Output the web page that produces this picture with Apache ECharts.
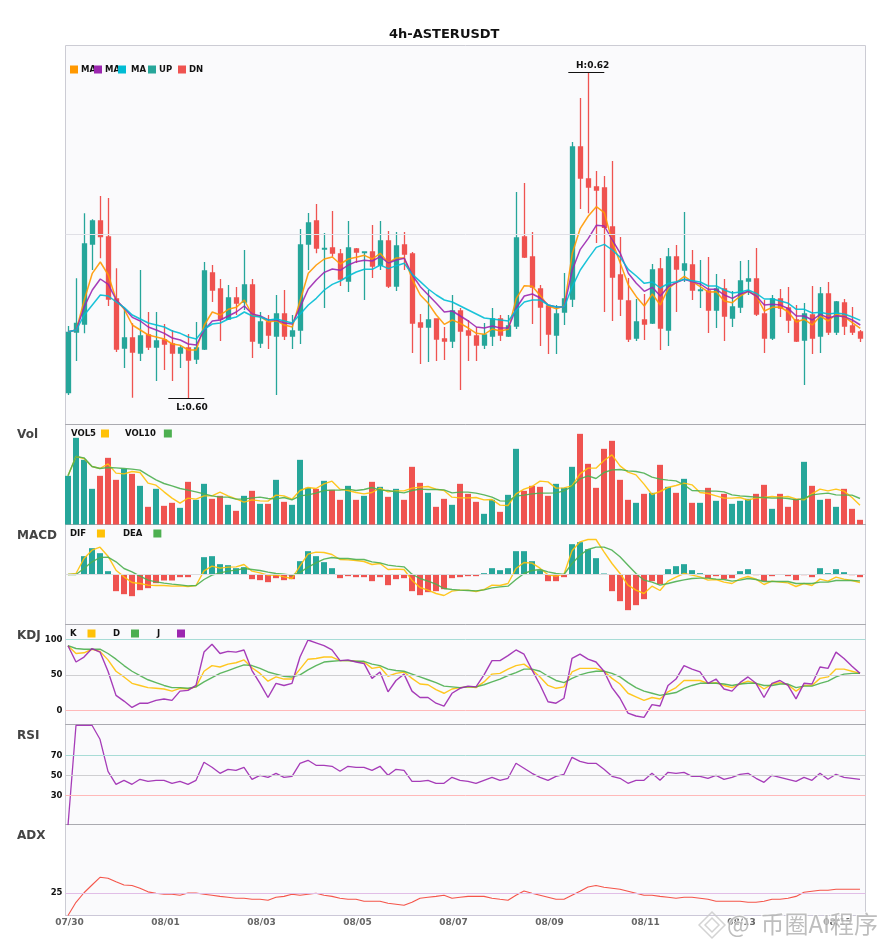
<!DOCTYPE html>
<html><head><meta charset="utf-8">
<style>html,body{margin:0;padding:0;background:#fff}#c{width:885px;height:950px}</style>
<script src="https://cdn.jsdelivr.net/npm/echarts@6/dist/echarts.min.js"></script>
</head><body><div id="c"></div>
<script>
// Prices are kept in ticks above the 0.60 low; one tick = tickSize.
const tickSize = 0.02 / 981;
const tickLabels = ['07/30','08/01','08/03','08/05','08/07','08/09','08/11','08/13','08/15'];
const open = [16,198,222,462,531,483,297,150,180,135,189,153,174,162,135,150,117,147,375,327,237,300,288,339,165,228,186,252,186,204,462,531,447,450,432,351,447,436,438,399,471,336,459,432,225,213,237,177,171,261,201,186,159,186,237,186,216,483,423,327,276,189,258,297,753,657,633,630,513,369,291,180,234,225,387,204,423,384,399,322,321,264,327,240,273,351,357,252,180,297,270,234,174,249,186,312,198,285,216,198];
const close = [197,224,462,531,484,297,147,180,138,186,153,171,162,135,150,114,150,381,324,237,300,285,339,171,228,189,252,186,201,459,525,450,449,435,357,450,438,438,396,471,336,456,432,225,213,234,177,171,261,201,189,159,189,237,189,216,480,423,333,273,192,252,297,753,660,633,624,512,363,297,177,228,222,384,210,423,387,402,324,324,264,327,246,273,351,357,252,180,297,270,234,171,252,180,312,198,288,216,198,180];
const low = [9,111,194,384,419,276,138,90,1,111,144,51,84,51,90,0,102,144,288,171,234,249,264,120,150,147,9,174,147,162,384,434,270,424,336,318,405,294,360,384,330,321,384,135,102,108,111,114,150,24,111,111,147,156,171,183,207,420,222,156,132,132,219,273,567,554,465,258,231,246,168,171,174,222,144,156,258,348,294,270,195,210,171,213,255,309,246,135,174,243,195,168,39,132,135,189,189,189,189,168];
const high = [216,359,554,536,606,600,389,270,224,384,258,258,222,204,159,192,228,408,399,357,339,333,444,357,258,249,309,324,249,507,555,582,495,561,447,531,450,438,519,531,501,498,498,438,252,324,239,213,309,270,234,213,225,270,249,249,618,645,498,339,279,279,375,768,900,978,681,666,711,483,360,297,312,402,420,450,459,558,444,414,423,372,357,321,411,414,450,294,309,327,333,279,285,336,333,348,291,297,273,204];
const ma5 = [199,204,294,374,408,369,294,266,219,204,189,183,177,162,158,144,144,219,258,249,266,272,294,249,244,228,232,219,213,294,374,399,417,423,402,417,422,428,417,434,405,420,420,356,309,284,249,221,234,224,210,194,191,207,201,206,299,337,335,307,276,268,276,434,509,546,574,556,469,404,339,304,276,312,279,329,347,365,349,334,318,319,291,286,306,321,306,261,272,273,258,228,236,219,246,231,252,244,226,209];
const ma10 = [199,204,274,324,357,341,294,269,242,231,213,204,194,180,174,162,159,204,231,234,246,258,276,252,246,234,234,225,222,274,327,354,377,387,383,399,409,413,411,424,405,414,419,369,334,309,284,258,261,246,231,213,210,216,210,210,270,306,312,300,279,273,274,384,446,479,518,516,474,434,374,344,320,332,306,334,346,356,349,342,326,326,309,299,312,320,306,279,281,279,268,246,246,234,251,240,247,244,234,219];
const ma20 = [199,204,249,279,309,306,288,271,249,237,225,219,213,201,194,183,177,207,222,225,237,243,258,246,243,234,237,231,225,252,279,299,324,341,351,366,378,386,386,399,388,397,404,371,349,327,309,294,288,276,264,252,240,237,234,231,264,288,294,294,279,273,274,334,384,419,452,461,444,422,386,366,344,348,330,344,349,356,352,348,336,336,324,315,318,324,314,297,297,291,284,266,266,255,257,252,255,252,243,233];
const volume = [146,260,194,107,146,200,134,167,152,116,53,107,56,65,50,128,74,122,77,86,59,41,86,101,62,62,134,68,59,194,110,107,131,104,74,116,74,86,128,113,83,107,74,173,125,95,53,77,59,122,92,68,32,74,38,89,227,101,116,113,86,122,110,173,272,182,110,227,251,134,74,65,92,95,179,113,95,137,65,65,110,71,92,62,71,77,92,119,47,92,53,77,188,116,74,77,53,107,47,14];
const vol5 = [146,204,198,174,168,182,154,152,159,156,124,118,98,79,64,79,76,86,86,97,86,77,67,74,71,70,88,86,76,102,111,108,122,130,106,102,96,92,96,109,98,101,101,109,112,114,106,102,82,80,80,81,74,75,58,57,92,106,114,130,128,109,110,116,152,169,169,192,209,176,157,149,121,90,99,111,117,124,119,96,93,86,79,79,81,73,80,81,84,82,84,77,74,92,106,101,106,100,81,58];
const vol10 = [146,204,200,174,168,171,170,168,166,163,148,134,123,116,108,103,98,92,86,82,82,76,76,80,82,78,77,81,74,86,89,94,102,103,103,106,102,105,111,103,102,98,95,102,106,105,105,104,95,97,97,94,89,82,71,70,85,88,92,94,94,95,101,114,137,146,138,156,164,165,161,159,154,142,136,133,131,119,102,101,100,100,98,89,86,84,82,81,79,80,78,74,78,89,92,94,89,88,88,78];
const macdHist = [0,0,55,79,64,10,-50,-59,-65,-47,-41,-26,-18,-18,-8,-8,0,52,55,31,28,19,22,-14,-17,-23,-11,-17,-14,40,70,55,37,19,-11,-5,-8,-8,-20,-8,-32,-14,-11,-50,-62,-53,-50,-44,-11,-8,-5,-5,4,19,13,19,70,70,40,13,-20,-20,-8,91,97,76,49,3,-50,-80,-107,-92,-74,-20,-29,16,25,31,13,4,-11,-5,-14,-11,10,16,-2,-20,-5,0,-5,-17,-2,-8,19,4,16,7,-2,-8];
const dif = [0,3,48,73,82,55,13,-7,-24,-27,-32,-33,-33,-35,-34,-36,-33,11,25,19,22,23,30,10,5,-2,-1,-7,-12,26,61,67,66,60,45,44,42,39,30,33,15,16,15,-17,-39,-47,-57,-63,-50,-47,-47,-51,-45,-32,-33,-27,18,36,34,19,-1,-5,1,71,98,105,105,68,33,3,-32,-47,-57,-35,-48,-20,-8,3,-2,-7,-17,-15,-23,-27,-13,-6,-14,-30,-20,-23,-25,-36,-27,-33,-14,-20,-8,-14,-18,-24];
const dea = [0,0,18,38,51,52,38,18,8,-5,-17,-22,-26,-29,-31,-34,-33,-15,-2,5,10,13,18,15,12,7,3,1,-2,6,22,35,46,51,48,48,45,45,38,35,28,25,23,1,-12,-20,-29,-42,-45,-47,-48,-49,-46,-40,-37,-35,-15,3,12,15,8,3,0,33,58,75,82,82,73,53,28,3,-17,-23,-32,-27,-21,-16,-12,-11,-11,-14,-15,-20,-17,-12,-15,-21,-21,-21,-21,-27,-27,-27,-23,-23,-18,-18,-18,-19];
const kLine = [91,80,81,86,83,71,55,47,38,35,32,31,30,27,31,30,33,55,63,61,65,67,71,60,52,41,47,44,44,58,72,73,75,75,70,70,69,68,59,61,48,52,54,45,37,36,29,24,30,32,33,32,40,51,52,58,63,65,57,47,35,31,33,54,59,59,59,55,45,37,24,19,14,18,16,26,32,42,42,42,38,39,35,32,37,41,38,30,37,39,36,27,35,35,45,47,58,58,55,52];
const dLine = [91,87,86,86,86,80,72,63,55,49,43,39,35,32,32,31,33,40,46,52,56,60,64,63,59,54,51,48,47,50,57,63,68,69,70,70,69,69,65,63,58,56,55,51,47,43,39,34,33,32,33,33,36,40,44,49,53,58,58,55,48,42,39,45,50,53,55,55,52,47,39,32,27,24,21,23,25,31,35,38,38,38,37,35,37,38,38,35,35,37,37,32,34,34,38,41,47,51,52,52];
const jLine = [91,68,75,87,82,55,21,13,4,10,10,14,16,14,27,28,35,82,93,80,83,82,85,56,38,18,38,35,38,75,99,95,91,85,70,71,68,66,45,54,26,42,51,27,18,18,10,6,24,31,34,33,50,70,70,77,85,79,57,36,12,10,17,73,79,72,68,55,32,17,-4,-8,-10,8,6,35,44,63,58,54,38,44,30,27,39,47,38,18,38,42,35,16,38,37,61,59,82,73,62,52];
const rsi = [0,100,100,100,86,54,41,45,41,46,44,45,45,42,44,41,45,63,58,52,56,55,58,46,50,48,52,48,49,62,65,60,60,59,54,59,58,58,55,59,50,56,55,44,44,45,42,42,48,45,44,42,45,48,45,47,62,57,52,48,45,49,51,68,64,62,62,56,49,47,42,45,45,52,45,53,52,53,49,49,47,50,46,48,51,52,47,43,50,48,46,44,48,45,52,46,51,48,47,46];
const adx = [0,14.5,25,33.5,42,41,37,33.5,33,30,26,24.4,23.3,23.3,22.2,24.7,24.7,23.3,22.2,21,20,19,19,17.8,17.8,16.7,20,21,23.3,22.2,23.3,24.4,22.2,21,19,17.8,17.8,15.6,15.6,15.6,13.4,12.3,11.2,14.5,19,20,21,22.2,19,20,21,21,21,19,17.8,16.7,22.2,27,24.4,22.2,20,17.8,17.8,22.2,26.6,31.3,33,31,30,28.8,26.6,24.4,22.2,22.2,21,20,19,20,20,19,17.8,15.6,15.6,15.6,15.6,14.5,14.5,15.6,17.8,17.8,19,21,25.5,26.6,27.7,27.7,28.8,28.8,28.8,28.8];

const UP = '#26a69a', DN = '#ef5350';
const price = t => 0.6 + t * tickSize;
const idx = open.map((_, i) => i);
const isUp = i => close[i] >= open[i];
const pts = arr => arr.map((v, i) => [i, v]);
const ptsP = arr => arr.map((v, i) => [i, price(v)]);
const candle = i => [i, price(open[i]), price(close[i]), price(low[i]), price(high[i])];

const panels = [
  {top: 45.5, h: 379, min: price(-79.5), max: price(1057.5), xMin: -0.35},
  {top: 424.5, h: 100, min: 0, max: 300, xMin: -0.3125},
  {top: 524.5, h: 100, min: -150, max: 150, xMin: -0.3125},
  {top: 624.5, h: 100, min: -20, max: 120.85, labels: [0, 50, 100], xMin: -0.3125},
  {top: 724.5, h: 100, min: 0.8, max: 100.8, labels: [30, 50, 70], xMin: -0.3125},
  {top: 824.5, h: 91, min: 0, max: 100, labels: [25], xMin: -0.3125}
];
const last = panels.length - 1;
const grid = panels.map(p => ({left: 65.5, width: 800, top: p.top, height: p.h, show: true,
  backgroundColor: '#fafafc', borderColor: '#ccccd4', borderWidth: 1, containLabel: false}));
const xAxis = panels.map((p, k) => ({type: 'value', gridIndex: k, min: p.xMin, max: p.xMin + 100,
  splitLine: {show: false}, axisTick: {show: false},
  axisLine: {show: true, onZero: false, lineStyle: {color: k === last ? '#ccc8d8' : '#aaaab0', width: 1}},
  axisLabel: k === last ? {show: true, customValues: tickLabels.map((_, n) => n * 12),
    formatter: v => tickLabels[v / 12], color: '#666', fontWeight: 'bold', fontSize: 9,
    fontFamily: 'DejaVu Sans', margin: 3, padding: [0, 0, 0, 3], hideOverlap: false} : {show: false}}));
const yAxis = panels.map((p, k) => ({type: 'value', gridIndex: k, min: p.min, max: p.max,
  splitLine: {show: false}, axisTick: {show: false}, axisLine: {show: false},
  axisLabel: p.labels ? {show: true, customValues: p.labels, color: '#111', fontWeight: 'bold',
    fontSize: 8.5, fontFamily: 'DejaVu Sans', margin: 3} : {show: false}}));

const levels = rows => ({silent: true, symbol: 'none', animation: false, label: {show: false},
  data: rows.map(r => ({yAxis: r[0], lineStyle: {color: r[1], width: 1, type: 'solid'}}))});
const line = (name, data, k, color, width, extra) => Object.assign({name, type: 'line', data,
  xAxisIndex: k, yAxisIndex: k, symbol: 'none', showSymbol: false, smooth: false, z: 4,
  lineStyle: {color, width, opacity: 0.9}, itemStyle: {color}, emphasis: {disabled: true}}, extra || {});
const candleSeries = (name, color, keep, extra) => Object.assign({name, type: 'candlestick',
  xAxisIndex: 0, yAxisIndex: 0, barWidth: 5, data: idx.filter(keep).map(candle), z: 2,
  itemStyle: {color, color0: color, borderColor: color, borderColor0: color, borderColorDoji: color, borderWidth: 1.3}}, extra || {});
const series = [
  candleSeries('UP', UP, isUp),
  candleSeries('DN', DN, i => !isUp(i), {
    markLine: {silent: true, symbol: 'none', label: {show: false}, animation: false,
      lineStyle: {color: '#111', width: 1, type: 'solid'},
      data: [
        [{coord: [62.5, price(high[65])]}, {coord: [67, price(high[65])]}],
        [{coord: [12.5, price(low[15])]}, {coord: [17, price(low[15])]}],
        [{yAxis: 0.61, x: 65.5, lineStyle: {color: '#e0e0e6', width: 1}}, {yAxis: 0.61, x: 865.5}]
      ]},
    markPoint: {silent: true, symbol: 'circle', symbolSize: 0, animation: false,
      label: {show: true, color: '#111', fontWeight: 'bold', fontSize: 9, fontFamily: 'DejaVu Sans'},
      data: [
        {coord: [65.55, price(high[65])], label: {formatter: 'H:0.62', position: 'top', distance: 2}},
        {coord: [15.45, price(low[15])], label: {formatter: 'L:0.60', position: 'bottom', distance: 5}}
      ]}
  }),
  line('MA5', ptsP(ma5), 0, '#ff9800', 1.5),
  line('MA10', ptsP(ma10), 0, '#9c27b0', 1.5),
  line('MA20', ptsP(ma20), 0, '#00bcd4', 1.5),
  {name: 'Vol', type: 'bar', xAxisIndex: 1, yAxisIndex: 1, barWidth: 6, z: 2,
    data: volume.map((v, i) => ({value: [i, v], itemStyle: {color: isUp(i) ? UP : DN}}))},
  line('VOL5', pts(vol5), 1, '#ffc107', 1.4),
  line('VOL10', pts(vol10), 1, '#4caf50', 1.4),
  {name: 'MACD', type: 'bar', xAxisIndex: 2, yAxisIndex: 2, barWidth: 6, z: 2,
    data: macdHist.map((v, i) => ({value: [i, v], itemStyle: {color: v >= 0 ? UP : DN}})),
    markLine: levels([[0, '#dcdce0']])},
  line('DIF', pts(dif), 2, '#ffc107', 1.4),
  line('DEA', pts(dea), 2, '#4caf50', 1.4),
  line('K', pts(kLine), 3, '#ffc107', 1.4, {markLine: levels([[100, '#a8dcd6'], [50, '#cfcfd2'], [0, '#ffb9b9']])}),
  line('D', pts(dLine), 3, '#4caf50', 1.4),
  line('J', pts(jLine), 3, '#9c27b0', 1.4),
  line('RSI', pts(rsi), 4, '#9c27b0', 1.3, {markLine: levels([[70, '#a8dcd6'], [50, '#cfcfd2'], [30, '#ffb9b9']])}),
  line('ADX', pts(adx), 5, '#f44336', 1.1, {markLine: levels([[25, '#e1bee7']])})
];

const txt = {color: '#111', fontWeight: 'bold', fontSize: 8.5, fontFamily: 'DejaVu Sans'};
const lg = (name, color, left, top, align, label, wideGap) => ({show: true, left, top, orient: 'horizontal',
  align: align || 'left', itemWidth: 8, itemHeight: 8, selectedMode: false, padding: 0,
  formatter: () => label || name,
  textStyle: (align === 'right' || wideGap) ? txt : Object.assign({padding: [0, 0, 0, -2]}, txt),
  data: [{name, icon: 'rect', itemStyle: {color, borderWidth: 0, opacity: 1}}]});
const legend = [
  lg('MA5', '#ff9800', 70, 65, 'left', 'MA'),
  lg('MA10', '#9c27b0', 94, 65, 'left', 'MA'),
  lg('MA20', '#00bcd4', 118, 65, 'left', 'MA', true),
  lg('UP', UP, 148, 65),
  lg('DN', DN, 178, 65),
  lg('VOL5', '#ffc107', 71, 429, 'right'),
  lg('VOL10', '#4caf50', 125, 429, 'right', 'VOL10 '),
  lg('DIF', '#ffc107', 70, 529, 'right', 'DIF  '),
  lg('DEA', '#4caf50', 123, 529, 'right', 'DEA  '),
  lg('K', '#ffc107', 70, 629, 'right', 'K  '),
  lg('D', '#4caf50', 113, 629, 'right', 'D  '),
  lg('J', '#9c27b0', 157, 629, 'right', 'J    ')
];
const panelTitle = (text, top) => ({text, left: 17, top, padding: 0,
  textStyle: {color: '#444', fontWeight: 'bold', fontSize: 12, fontFamily: 'DejaVu Sans'}});
const title = [
  {text: '4h-ASTERUSDT', left: 389, top: 28, padding: 0,
    textStyle: {color: '#111', fontWeight: 'bold', fontSize: 13, fontFamily: 'DejaVu Sans'}},
  panelTitle('Vol', 429), panelTitle('MACD', 530), panelTitle('KDJ', 630),
  panelTitle('RSI', 730), panelTitle('ADX', 830)
];
const wm = 'rgba(150,150,150,0.62)';
const graphic = [
  {type: 'text', left: 726, top: 911, z: 100, silent: true,
    style: {text: '@  币圈AI程序', fill: wm, font: '24px "Noto Sans CJK SC"', stroke: 'rgba(255,255,255,0.7)', lineWidth: 2}},
  {type: 'polygon', z: 100, silent: true, shape: {points: [[712, 912], [725, 925], [712, 938], [699, 925]]},
    style: {fill: 'none', stroke: 'rgba(200,200,200,0.8)', lineWidth: 1.5}},
  {type: 'polygon', z: 100, silent: true, shape: {points: [[712, 918], [719, 925], [712, 932], [705, 925]]},
    style: {fill: 'none', stroke: 'rgba(200,200,200,0.8)', lineWidth: 1.5}}
];
const chart = echarts.init(document.getElementById('c'), null, {renderer: 'canvas', width: 885, height: 950});
chart.setOption({animation: false, backgroundColor: '#fff', title, legend, grid, xAxis, yAxis, series, graphic});
</script></body></html>
